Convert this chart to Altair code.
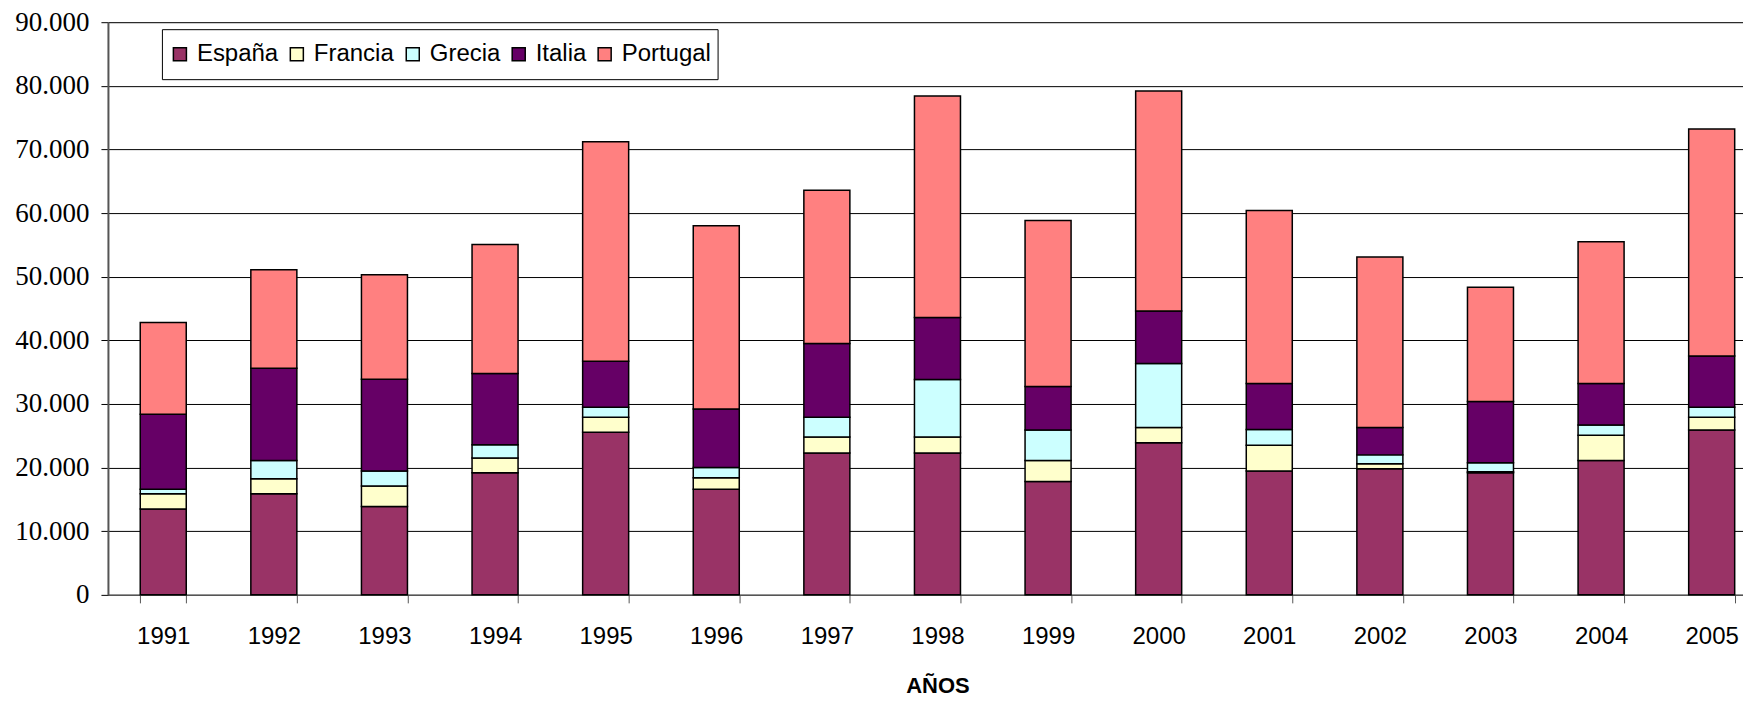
import altair as alt
import pandas as pd

years = [str(y) for y in range(1991, 2006)]
countries = ["España", "Francia", "Grecia", "Italia", "Portugal"]
espana = [13500, 15900, 13900, 19200, 25550, 16600, 22300, 22300, 17800, 23900, 19450, 19800, 19200, 21100, 25900]
francia = [2400, 2350, 3200, 2300, 2350, 1800, 2500, 2500, 3300, 2400, 4050, 800, 150, 4000, 2000]
grecia = [700, 2850, 2350, 2100, 1600, 1600, 3100, 9050, 4800, 10050, 2500, 1400, 1400, 1600, 1600]
italia = [11800, 14500, 14450, 11200, 7200, 9200, 11600, 9750, 6850, 8250, 7200, 4300, 9650, 6500, 8050]
portugal = [14400, 15500, 16400, 20250, 34500, 28800, 24100, 34800, 26100, 34600, 27200, 26800, 17950, 22300, 35650]
colors = ["#993366", "#FFFFCC", "#CCFFFF", "#660066", "#FF8080"]

series = [espana, francia, grecia, italia, portugal]
rows = []
for ci, (name, vals) in enumerate(zip(countries, series)):
    for y, v in zip(years, vals):
        rows.append({"year": y, "country": name, "value": v, "idx": ci})
df = pd.DataFrame(rows)

serif = "'Liberation Serif', 'Times New Roman', serif"
sans = "'Liberation Sans', Arial, sans-serif"

chart = alt.Chart(df).mark_bar(stroke="black", strokeWidth=1.5).encode(
    x=alt.X(
        "year:N",
        sort=years,
        title="AÑOS",
        scale=alt.Scale(range=[0, 1660], paddingInner=0.584, paddingOuter=0.292),
        axis=alt.Axis(
            labelAngle=0,
            tickBand="extent",
            tickSize=8,
            tickColor="#555555",
            domainColor="#555555",
            domainWidth=1.5,
            labelFont=sans,
            labelFontSize=24,
            labelColor="black",
            labelPadding=22,
            titleFont=sans,
            titleFontSize=22,
            titleFontWeight="bold",
            titleColor="black",
            titlePadding=27,
            grid=False,
        ),
    ),
    y=alt.Y(
        "value:Q",
        stack="zero",
        scale=alt.Scale(domain=[0, 90000], nice=False),
        axis=alt.Axis(
            values=list(range(0, 90001, 10000)),
            labelExpr="replace(format(datum.value, ',d'), ',', '.')",
            title=None,
            tickSize=7,
            tickColor="black",
            domainColor="#555555",
            domainWidth=2,
            labelFont=serif,
            labelFontSize=27,
            labelColor="black",
            labelPadding=12,
            grid=True,
            gridColor="black",
            gridWidth=1,
        ),
    ),
    color=alt.Color(
        "country:N",
        sort=countries,
        scale=alt.Scale(domain=countries, range=colors),
        legend=alt.Legend(
            title=None,
            orient="none",
            legendX=54,
            legendY=7,
            direction="horizontal",
            symbolType="square",
            symbolSize=170,
            symbolStrokeColor="black",
            symbolStrokeWidth=1.5,
            symbolOpacity=1,
            labelFont=sans,
            labelFontSize=24,
            labelColor="black",
            labelOffset=5,
            columnPadding=6,
            clipHeight=38,
            padding=6,
            fillColor="white",
            strokeColor="black",
        ),
    ),
    order=alt.Order("idx:Q", sort="ascending"),
).properties(
    width=1636,
    height=573,
    autosize=alt.AutoSizeParams(type="none"),
    padding={"left": 100, "top": 14, "right": 0, "bottom": 104},
).configure_view(
    fill="#FFFFCC",
    stroke="#8c8c8c",
    strokeWidth=2,
).configure(background="white")

chart.save("out.html", embed_options={"renderer": "svg", "actions": False})
